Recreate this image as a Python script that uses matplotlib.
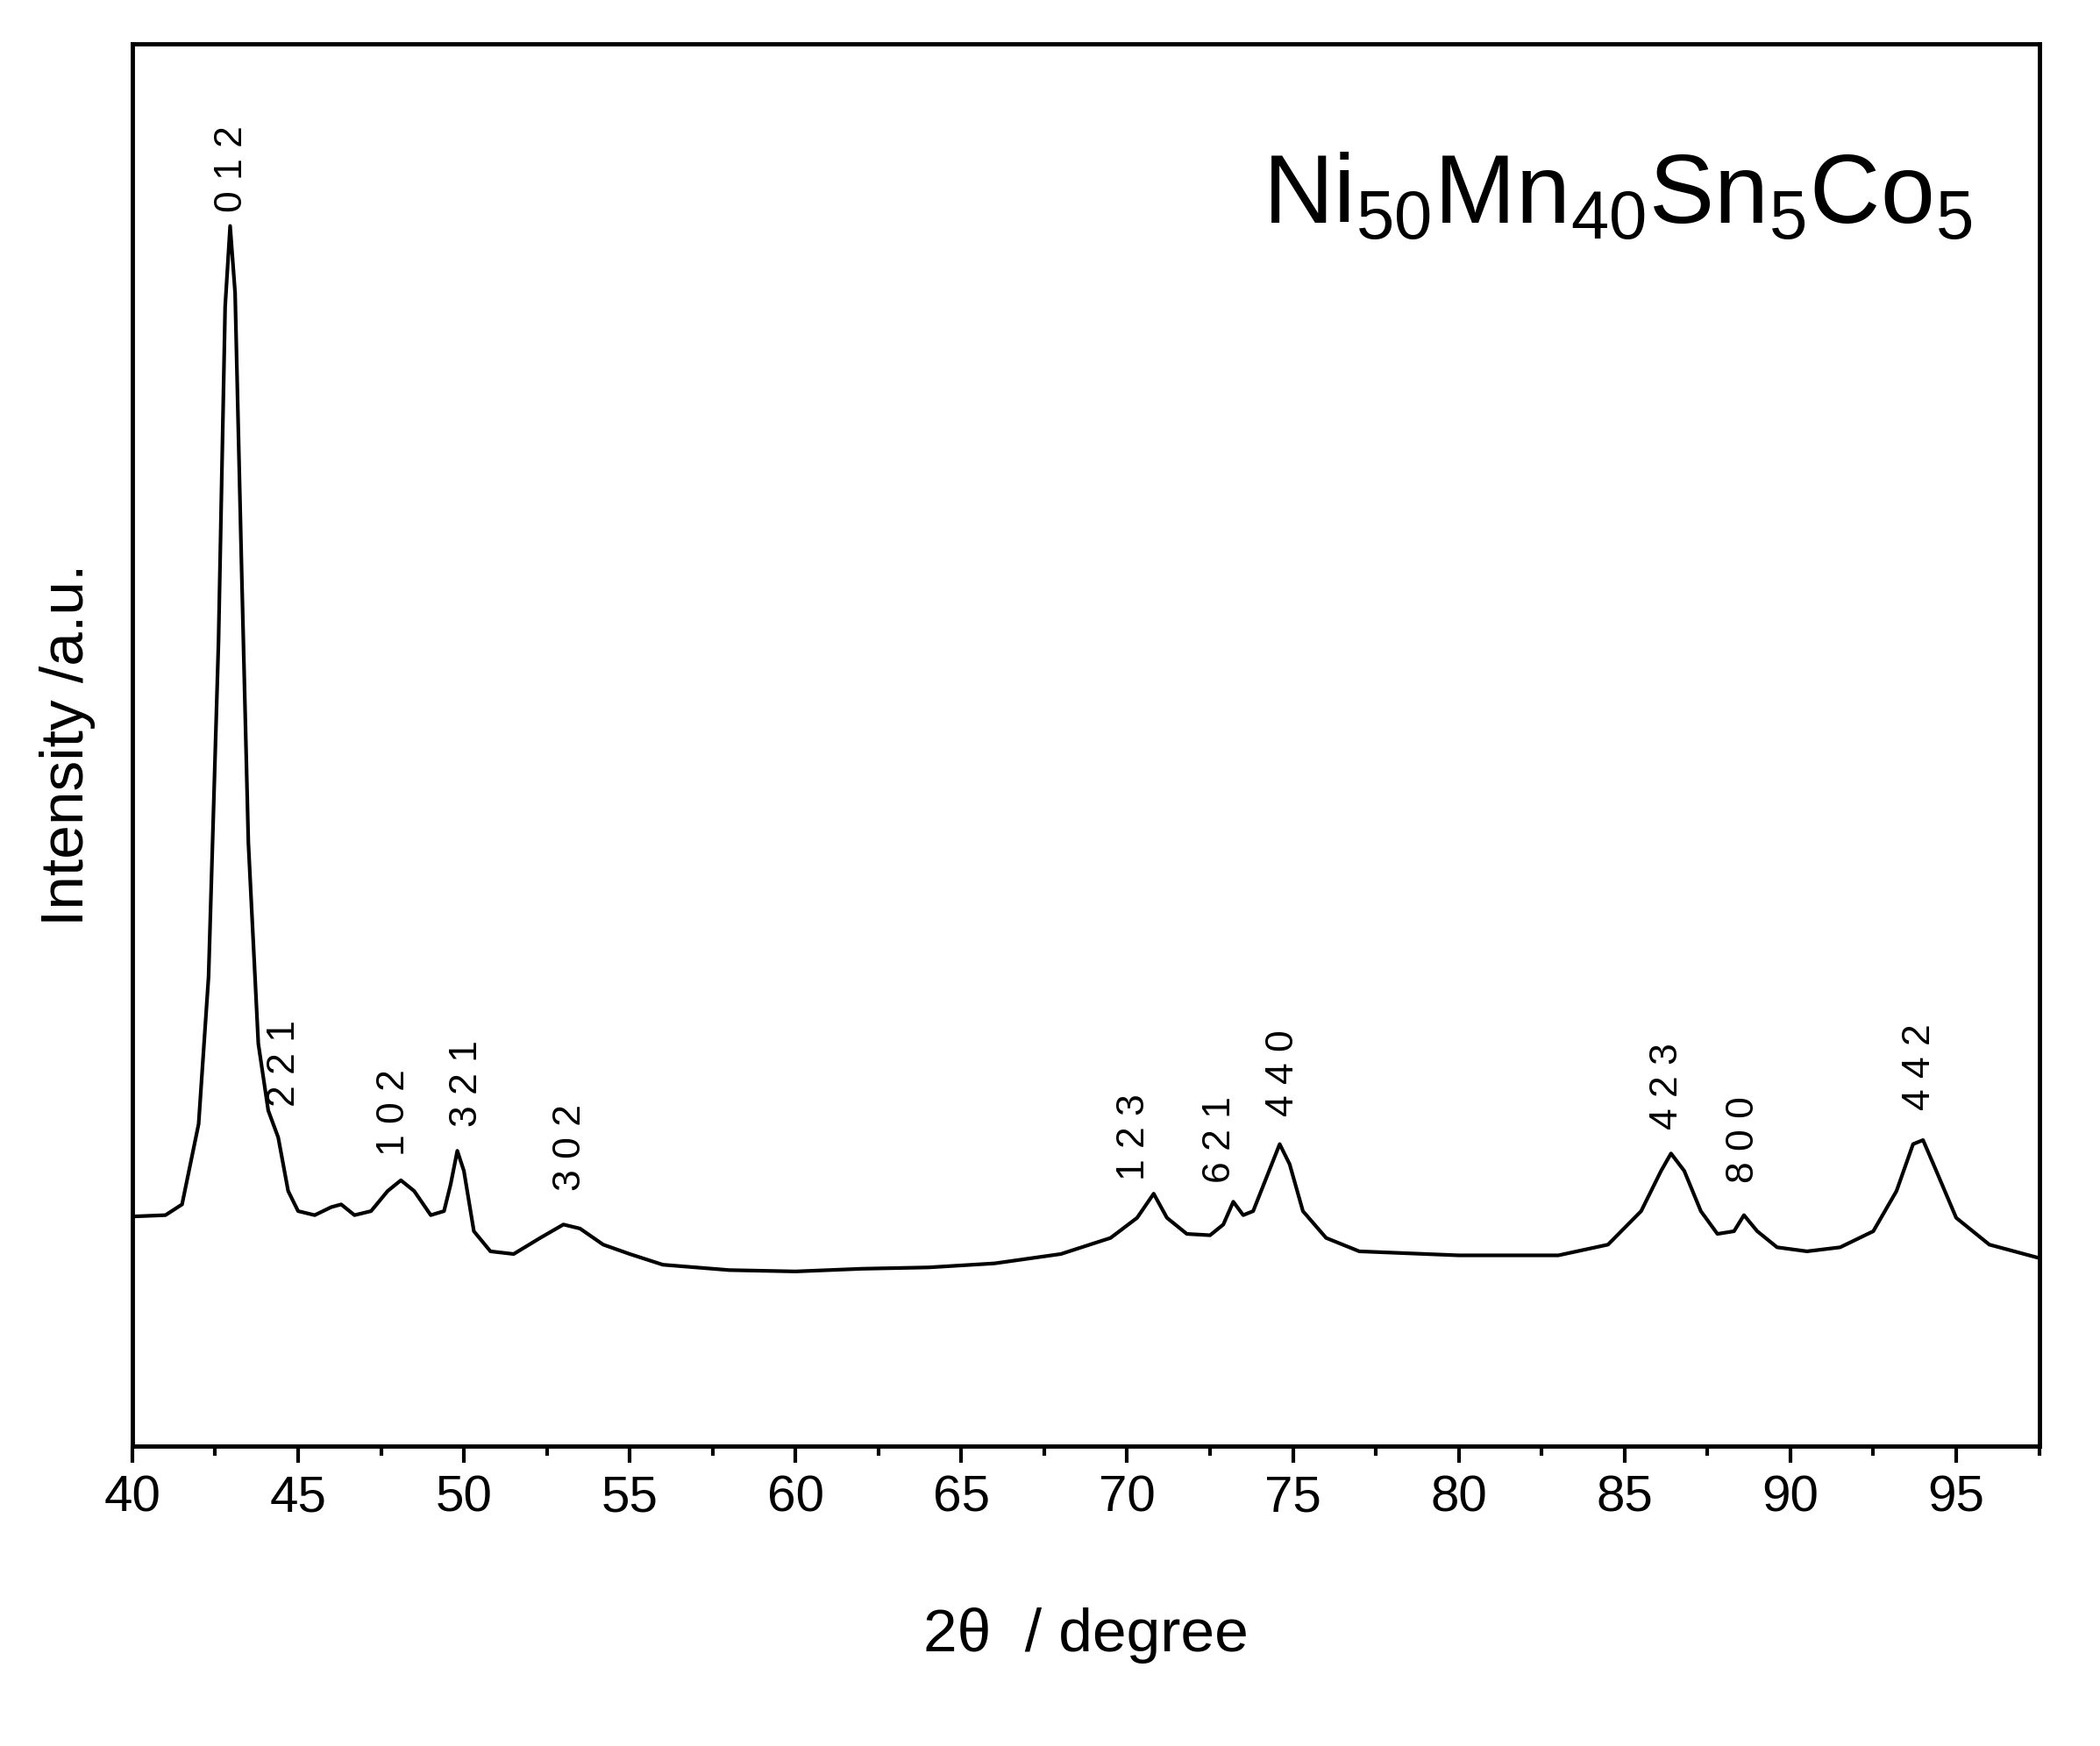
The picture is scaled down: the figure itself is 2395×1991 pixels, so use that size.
import matplotlib
matplotlib.use("Agg")
import matplotlib.pyplot as plt
from matplotlib.ticker import MultipleLocator

plt.rcParams['font.family'] = ['Liberation Sans', 'DejaVu Sans']
plt.rcParams['mathtext.fontset'] = 'custom'
plt.rcParams['mathtext.rm'] = 'Liberation Sans'

two_theta = [40,41,41.5,42,42.3,42.6,42.8,42.95,43.1,43.3,43.5,43.8,44.1,44.4,44.7,45.0,45.5,46.0,46.3,46.7,47.2,47.7,48.1,48.5,49.0,49.4,49.6,49.8,50.0,50.3,50.8,51.5,52.3,53.0,53.5,54.2,55,56,58,60,62,64,66,68,69.5,70.3,70.8,71.2,71.8,72.5,72.9,73.2,73.5,73.8,74.2,74.6,74.9,75.3,76,77,80,83,84.5,85.5,86.1,86.4,86.8,87.3,87.8,88.3,88.6,89.0,89.6,90.5,91.5,92.5,93.2,93.7,94.0,94.4,95,96,97.5]
intensity = [171,172,180,240,350,600,850,910,860,650,450,300,250,230,190,175,172,178,180,172,175,190,198,190,172,175,195,220,205,160,145,143,155,165,162,150,143,135,131,130,132,133,136,143,155,170,188,170,158,157,165,182,172,175,200,225,210,175,155,145,142,142,150,175,205,218,205,175,158,160,172,160,148,145,148,160,190,225,228,205,170,150,140]

hkl_labels = ["0 1 2","2 2 1","1 0 2","3 2 1","3 0 2","1 2 3","6 2 1","4 4 0","4 2 3","8 0 0","4 4 2"]
hkl_x = [43.0,44.6,47.9,50.1,53.2,70.2,72.8,74.7,86.3,88.6,93.9]
hkl_y = [920,253,216,238,190,198,196,246,236,196,250]

fig = plt.figure(figsize=(23.95,19.91), dpi=100)
ax = fig.add_axes([0.063,0.172,0.908,0.803])
ax.plot(two_theta, intensity, color='black', lw=3)
ax.set_xlim(40,97.5)
ax.set_ylim(0,1046)
ax.set_yticks([])
ax.xaxis.set_major_locator(MultipleLocator(5))
ax.xaxis.set_minor_locator(MultipleLocator(2.5))
ax.tick_params(axis='x', which='major', length=14, width=3, labelsize=42, pad=10, direction='out')
ax.tick_params(axis='x', which='minor', length=8, width=3, direction='out')
for s in ax.spines.values():
    s.set_linewidth(3.5)
for lab, x, y in zip(hkl_labels, hkl_x, hkl_y):
    ax.text(x, y, lab, rotation=90, ha='center', va='bottom', fontsize=32)
ax.set_xlabel("2θ  / degree", fontsize=50, labelpad=70)
ax.set_ylabel("Intensity /a.u.", fontsize=50, labelpad=30)
ax.text(0.965, 0.89, r"Ni$_{50}$Mn$_{40}$Sn$_{5}$Co$_{5}$", transform=ax.transAxes,
        ha='right', va='center', fontsize=80)
fig.savefig("out.png", dpi=100)
